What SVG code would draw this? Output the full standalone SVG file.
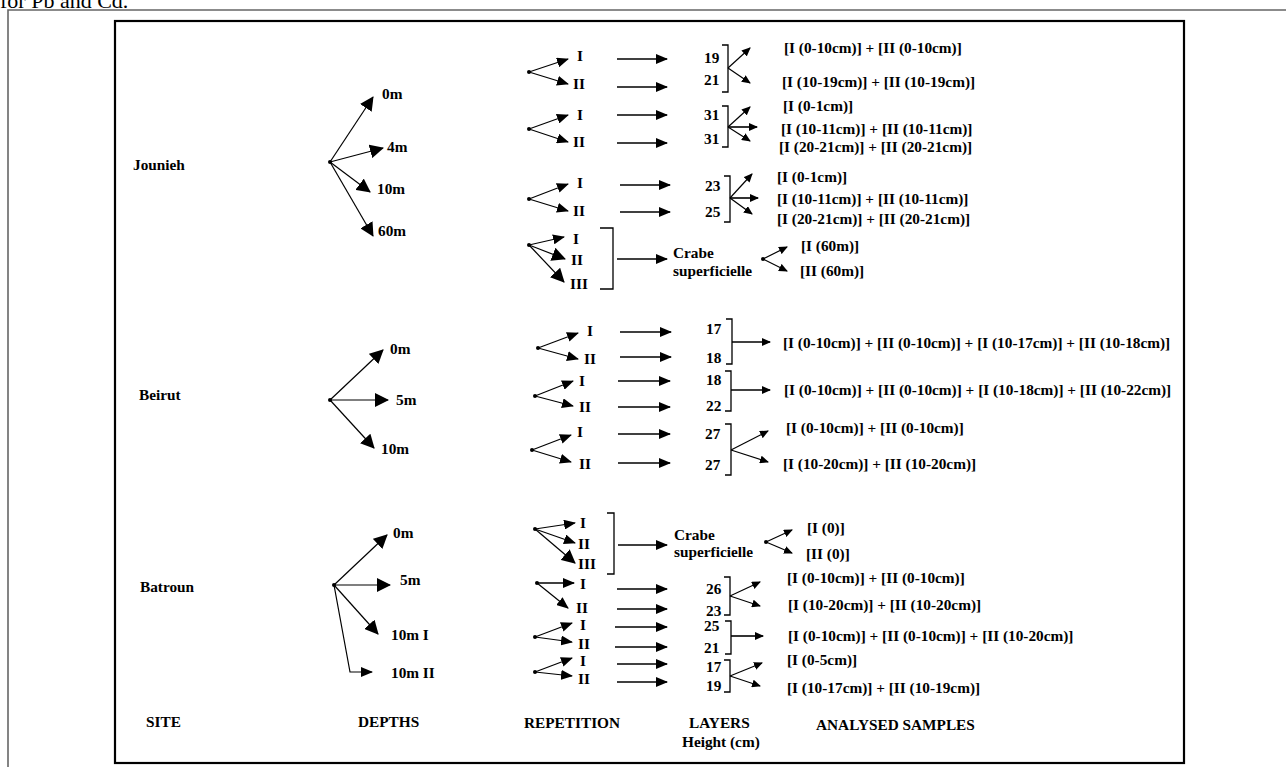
<svg xmlns="http://www.w3.org/2000/svg" width="1286" height="767" viewBox="0 0 1286 767">
<style>
text{font-family:"Liberation Serif","Times New Roman",serif;font-weight:bold;font-size:15.3px;fill:#000}
.cap{font-weight:normal;font-size:22px}
.ln{fill:none;stroke:#000;stroke-width:1.2}
.lg{fill:none;stroke:#000;stroke-width:1.6}
.br{fill:none;stroke:#000;stroke-width:1.3}
.big{marker-end:url(#mBig)}
.med{marker-end:url(#mMed)}
.sm{marker-end:url(#mSm)}
.dot{fill:#000}
</style>
<defs>
<marker id="mBig" markerUnits="userSpaceOnUse" markerWidth="14" markerHeight="14" refX="13" refY="7" orient="auto"><path d="M0,0 L14,7 L0,14 z" fill="#000"/></marker>
<marker id="mMed" markerUnits="userSpaceOnUse" markerWidth="12" markerHeight="10" refX="11" refY="5" orient="auto"><path d="M0,0 L12,5 L0,10 z" fill="#000"/></marker>
<marker id="mSm" markerUnits="userSpaceOnUse" markerWidth="9" markerHeight="8" refX="8" refY="4" orient="auto"><path d="M0,0 L9,4 L0,8 z" fill="#000"/></marker>
</defs>
<rect width="1286" height="767" fill="#fff"/>
<text class="cap" x="0" y="8">for Pb and Cd.</text>
<path d="M8,767 V10 H1286" fill="none" stroke="#666" stroke-width="1.6"/>
<rect x="115" y="21" width="1069" height="742" fill="none" stroke="#000" stroke-width="2.2"/>

<g id="connectors">
<path class="ln big" d="M330,162 L373,97"/>
<path class="ln big" d="M330,162 L383,148"/>
<path class="ln big" d="M330,162 L370,192"/>
<path class="ln big" d="M330,162 L373,236"/>
<path class="ln med" d="M529,72 L568,59"/><path class="ln med" d="M529,72 L568,84"/>
<path class="lg med" d="M617,59 L667,59"/><path class="lg med" d="M617,87 L667,87"/>
<path class="br" d="M722,45 H728 V92 H722"/>
<path class="ln sm" d="M728,68 L750,48"/><path class="ln sm" d="M728,68 L750,83"/>
<path class="ln med" d="M529,129 L568,115"/><path class="ln med" d="M529,129 L568,142"/>
<path class="lg med" d="M617,115 L667,115"/><path class="lg med" d="M617,143 L667,143"/>
<path class="br" d="M722,106 H728 V147 H722"/>
<path class="ln sm" d="M728,127 L750,107"/><path class="lg sm" d="M728,127 L757,127"/><path class="ln sm" d="M728,127 L750,141"/>
<path class="ln med" d="M529,199 L568,184"/><path class="ln med" d="M529,199 L568,211"/>
<path class="lg med" d="M620,185 L670,185"/><path class="lg med" d="M620,212 L670,212"/>
<path class="br" d="M724,176 H730 V222 H724"/>
<path class="ln sm" d="M730,198 L752,174"/><path class="lg sm" d="M730,198 L758,198"/><path class="ln sm" d="M730,198 L752,214"/>
<path class="ln med" d="M529,245 L564,237"/><path class="ln big" d="M529,245 L565,259"/><path class="ln big" d="M529,245 L564,282"/>
<path class="br" d="M600,228 H613 V289 H600"/>
<path class="lg med" d="M617,259 L667,259"/>
<path class="ln sm" d="M763,259 L787,247"/><path class="ln sm" d="M763,259 L787,271"/>
<path class="ln big" d="M330,400 L383,350"/>
<path class="ln big" d="M330,400 L388,400"/>
<path class="ln big" d="M330,400 L374,448"/>
<path class="ln med" d="M538,348 L578,333"/><path class="ln med" d="M538,348 L578,359"/>
<path class="lg med" d="M620,332 L671,332"/><path class="lg med" d="M620,357 L671,357"/>
<path class="br" d="M726,319 H732 V364 H726"/>
<path class="lg sm" d="M732,342 L770,342"/>
<path class="ln med" d="M535,396 L573,381"/><path class="ln med" d="M535,396 L573,406"/>
<path class="lg med" d="M618,381 L670,381"/><path class="lg med" d="M618,407 L670,407"/>
<path class="br" d="M725,371 H731 V411 H725"/>
<path class="lg sm" d="M731,390 L770,390"/>
<path class="ln med" d="M532,450 L571,435"/><path class="ln med" d="M532,450 L571,462"/>
<path class="lg med" d="M618,434 L670,434"/><path class="lg med" d="M618,463 L670,463"/>
<path class="br" d="M725,424 H731 V475 H725"/>
<path class="ln sm" d="M731,450 L768,431"/><path class="ln sm" d="M731,450 L768,462"/>
<path class="ln big" d="M334,585 L387,535"/>
<path class="ln big" d="M334,585 L390,585"/>
<path class="ln big" d="M334,585 L378,634"/>
<path class="ln med" d="M334,585 L350,672 L372,672"/>
<path class="ln med" d="M535,529 L575,523"/><path class="ln med" d="M535,529 L575,543"/><path class="ln big" d="M535,529 L575,563"/>
<path class="br" d="M607,513 H614 V574 H607"/>
<path class="lg med" d="M618,545 L667,545"/>
<path class="ln sm" d="M766,542 L792,530"/><path class="ln sm" d="M766,542 L792,553"/>
<path class="lg med" d="M537,583 L574,583"/><path class="ln med" d="M537,583 L568,608"/>
<path class="lg med" d="M617,589 L667,589"/><path class="lg med" d="M617,609 L667,609"/>
<path class="br" d="M724,577 H730 V615 H724"/>
<path class="ln sm" d="M730,596 L760,582"/><path class="ln sm" d="M730,596 L760,606"/>
<path class="ln med" d="M535,637 L572,623"/><path class="ln med" d="M535,637 L572,642"/>
<path class="lg med" d="M615,627 L667,627"/><path class="lg med" d="M615,647 L667,647"/>
<path class="br" d="M725,621 H731 V654 H725"/>
<path class="lg sm" d="M731,636 L763,636"/>
<path class="ln med" d="M535,672 L572,658"/><path class="ln med" d="M535,672 L572,676"/>
<path class="lg med" d="M617,664 L667,664"/><path class="lg med" d="M617,682 L667,682"/>
<path class="br" d="M724,660 H730 V692 H724"/>
<path class="ln sm" d="M730,676 L762,663"/><path class="ln sm" d="M730,676 L760,686"/>
<circle class="dot" cx="330" cy="162" r="2"/><circle class="dot" cx="529" cy="72" r="2"/><circle class="dot" cx="529" cy="129" r="2"/><circle class="dot" cx="529" cy="199" r="2"/><circle class="dot" cx="529" cy="245" r="2"/><circle class="dot" cx="763" cy="259" r="2"/>
<circle class="dot" cx="330" cy="400" r="2"/><circle class="dot" cx="538" cy="348" r="2"/><circle class="dot" cx="535" cy="396" r="2"/><circle class="dot" cx="532" cy="450" r="2"/>
<circle class="dot" cx="334" cy="585" r="2"/><circle class="dot" cx="535" cy="529" r="2"/><circle class="dot" cx="766" cy="542" r="2"/><circle class="dot" cx="537" cy="583" r="2"/><circle class="dot" cx="535" cy="637" r="2"/><circle class="dot" cx="535" cy="672" r="2"/>
</g>

<g id="sites">
<text x="133" y="170">Jounieh</text>
<text x="139" y="400">Beirut</text>
<text x="140" y="592">Batroun</text>
</g>
<g id="depths">
<text x="382" y="99">0m</text><text x="387" y="152">4m</text><text x="377" y="194">10m</text><text x="378" y="236">60m</text>
<text x="390" y="354">0m</text><text x="396" y="405">5m</text><text x="381" y="454">10m</text>
<text x="393" y="538">0m</text><text x="400" y="585">5m</text><text x="391" y="640">10m I</text><text x="391" y="678">10m II</text>
</g>
<g id="repetitions">
<text x="577" y="61">I</text><text x="573" y="89">II</text>
<text x="577" y="120">I</text><text x="573" y="147">II</text>
<text x="577" y="188">I</text><text x="573" y="216">II</text>
<text x="573" y="244">I</text><text x="571" y="265">II</text><text x="570" y="289">III</text>
<text x="587" y="336">I</text><text x="584" y="364">II</text>
<text x="579" y="386">I</text><text x="579" y="412">II</text>
<text x="577" y="437">I</text><text x="579" y="469">II</text>
<text x="580" y="528">I</text><text x="578" y="549">II</text><text x="578" y="569">III</text>
<text x="580" y="589">I</text><text x="576" y="613">II</text>
<text x="580" y="630">I</text><text x="578" y="649">II</text>
<text x="580" y="666">I</text><text x="578" y="684">II</text>
</g>
<g id="layers">
<text x="704" y="63">19</text><text x="704" y="85">21</text>
<text x="704" y="120">31</text><text x="704" y="144">31</text>
<text x="705" y="191">23</text><text x="705" y="217">25</text>
<text x="706" y="334">17</text><text x="706" y="363">18</text>
<text x="706" y="385">18</text><text x="706" y="411">22</text>
<text x="705" y="439">27</text><text x="705" y="470">27</text>
<text x="706" y="594">26</text><text x="706" y="616">23</text>
<text x="704" y="631">25</text><text x="704" y="653">21</text>
<text x="706" y="672">17</text><text x="706" y="691">19</text>
</g>
<g id="crabe-jounieh"><text x="673" y="258">Crabe</text><text x="673" y="276">superficielle</text></g>
<g id="crabe-batroun"><text x="674" y="540">Crabe</text><text x="674" y="557">superficielle</text></g>
<g id="samples">
<text x="784" y="53">[I (0-10cm)] + [II (0-10cm)]</text>
<text x="782" y="87">[I (10-19cm)] + [II (10-19cm)]</text>
<text x="783" y="111">[I (0-1cm)]</text>
<text x="781" y="134">[I (10-11cm)] + [II (10-11cm)]</text>
<text x="779" y="152">[I (20-21cm)] + [II (20-21cm)]</text>
<text x="777" y="182">[I (0-1cm)]</text>
<text x="777" y="204">[I (10-11cm)] + [II (10-11cm)]</text>
<text x="777" y="224">[I (20-21cm)] + [II (20-21cm)]</text>
<text x="801" y="251">[I (60m)]</text>
<text x="800" y="276">[II (60m)]</text>
<text x="783" y="348">[I (0-10cm)] + [II (0-10cm)] + [I (10-17cm)] + [II (10-18cm)]</text>
<text x="784" y="395">[I (0-10cm)] + [II (0-10cm)] + [I (10-18cm)] + [II (10-22cm)]</text>
<text x="786" y="433">[I (0-10cm)] + [II (0-10cm)]</text>
<text x="783" y="469">[I (10-20cm)] + [II (10-20cm)]</text>
<text x="807" y="533">[I (0)]</text>
<text x="806" y="559">[II (0)]</text>
<text x="787" y="583">[I (0-10cm)] + [II (0-10cm)]</text>
<text x="788" y="610">[I (10-20cm)] + [II (10-20cm)]</text>
<text x="788" y="641">[I (0-10cm)] + [II (0-10cm)] + [II (10-20cm)]</text>
<text x="787" y="665">[I (0-5cm)]</text>
<text x="787" y="693">[I (10-17cm)] + [II (10-19cm)]</text>
</g>
<g id="headers">
<text x="146" y="727">SITE</text>
<text x="358" y="727">DEPTHS</text>
<text x="524" y="728">REPETITION</text>
<text x="689" y="728">LAYERS</text>
<text x="682" y="747">Height (cm)</text>
<text x="816" y="730">ANALYSED SAMPLES</text>
</g>
</svg>
